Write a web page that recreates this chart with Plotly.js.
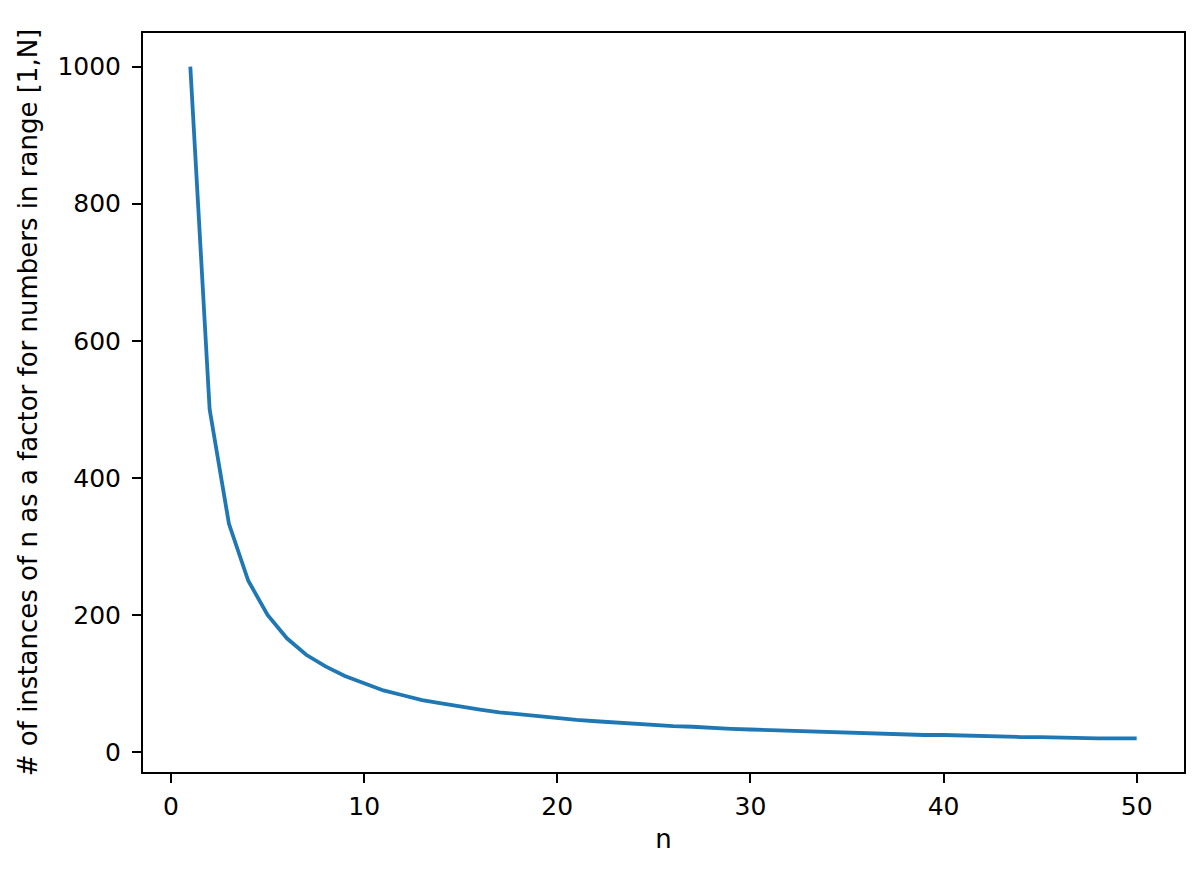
<!DOCTYPE html>
<html><head><meta charset="utf-8">
<script src="https://cdn.plot.ly/plotly-3.0.1.min.js"></script>
<style>html,body{margin:0;padding:0;background:#fff}</style>
</head><body>
<div id="chart" style="width:1203px;height:873px"></div>
<script>
const nValues = [1,2,3,4,5,6,7,8,9,10,11,12,13,14,15,16,17,18,19,20,21,22,23,24,25,26,27,28,29,30,31,32,33,34,35,36,37,38,39,40,41,42,43,44,45,46,47,48,49,50];
const counts = [1000,500,333,250,200,166,142,125,111,100,90,83,76,71,66,62,58,55,52,50,47,45,43,41,40,38,37,35,34,33,32,31,30,29,28,27,27,26,25,25,24,23,23,22,22,21,21,20,20,20];
const xTicks = [0,10,20,30,40,50];
const yTicks = [0,200,400,600,800,1000];

const tickFont = {family:'DejaVu Sans', size:25, color:'#000'};
const titleFont = {family:'DejaVu Sans', size:26, color:'#000'};
const axisCommon = {
  showgrid:false, zeroline:false, showline:true, mirror:true,
  linecolor:'#000', linewidth:2, ticks:'outside', ticklen:9, tickwidth:2,
  tickcolor:'#000', tickfont:tickFont
};
Plotly.newPlot('chart', [{
  x:nValues, y:counts, type:'scatter', mode:'lines',
  line:{color:'#1f77b4', width:3.8}
}], {
  width:1203, height:873,
  margin:{l:143, r:19, t:33, b:101},
  paper_bgcolor:'#fff', plot_bgcolor:'#fff',
  showlegend:false,
  xaxis:Object.assign({}, axisCommon, {
    range:[-1.45,52.45], tickvals:xTicks, ticktext:xTicks.map(String),
    ticklabelstandoff:2,
    title:{text:'n', font:titleFont, standoff:10}
  }),
  yaxis:Object.assign({}, axisCommon, {
    range:[-29,1049], tickvals:yTicks, ticktext:yTicks.map(String),
    ticklabelstandoff:6,
    title:{text:'# of instances of n as a factor for numbers in range [1,N]', font:titleFont, standoff:12}
  })
}, {staticPlot:true});
</script>
</body></html>
